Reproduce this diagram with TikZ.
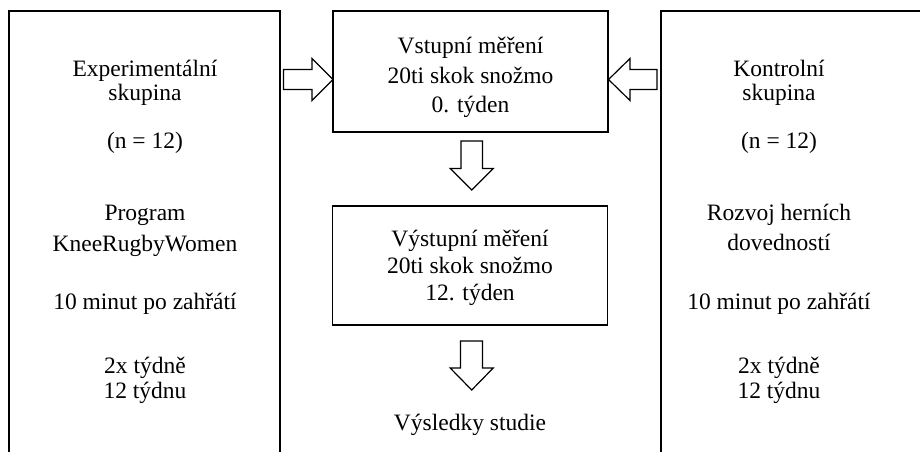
\documentclass[tikz,border=0pt]{standalone}
\usepackage{fontspec}
\setmainfont{Liberation Serif}
\begin{document}
\begin{tikzpicture}[x=1pt,y=-1pt,
  txt/.style={anchor=base,inner sep=0pt,font=\fontsize{23.5}{28}\selectfont},
  frame/.style={draw=black,line width=1.4pt},
  blockarrow/.style={draw=black,line width=1.2pt,line join=miter,fill=white}]
\useasboundingbox (0,0) rectangle (920,452);
% group frames (open at the bottom / right)
\draw[frame] (9,452) -- (9,11) -- (280,11) -- (280,452);
\draw[frame] (920,11) -- (661,11) -- (661,452);
% measurement boxes
\node[frame,minimum width=275pt,minimum height=121pt,inner sep=0pt] (vstup) at (470.5,71.5) {};
\node[frame,minimum width=275pt,minimum height=119pt,inner sep=0pt] (vystup) at (470,265.5) {};
% block arrows
\draw[blockarrow] (283.5,69.5) -- (312,69.5) -- (312,58.5) -- (333,79.5) -- (312,100.5) -- (312,89.5) -- (283.5,89.5) -- cycle;
\draw[blockarrow] (657,69.5) -- (630,69.5) -- (630,58.5) -- (608.5,79.5) -- (630,100.5) -- (630,89.5) -- (657,89.5) -- cycle;
\draw[blockarrow] (461,141) -- (482.5,141) -- (482.5,168.5) -- (493.2,168.5) -- (471.7,190) -- (450.2,168.5) -- (461,168.5) -- cycle;
\draw[blockarrow] (460.5,341) -- (482.5,341) -- (482.5,368) -- (493.2,368) -- (471.7,390) -- (450.2,368) -- (460.5,368) -- cycle;
% left column
\node[txt] (l1) at (145,76) {Experimentální};
\node[txt] (l2) at (145,100.5) {skupina};
\node[txt] (l3) at (145,148) {(n = 12)};
\node[txt] (l4) at (145,220) {Program};
\node[txt] (l5) at (145,251) {KneeRugbyWomen};
\node[txt] (l6) at (145,309) {10 minut po zahřátí};
\node[txt] (l7) at (145,373) {2x týdně};
\node[txt] (l8) at (145,398) {12 týdnu};
% right column
\node[txt] (r1) at (779,76) {Kontrolní};
\node[txt] (r2) at (779,100.5) {skupina};
\node[txt] (r3) at (779,148) {(n = 12)};
\node[txt] (r4) at (779,220) {Rozvoj herních};
\node[txt] (r5) at (779,250) {dovedností};
\node[txt] (r6) at (779,309) {10 minut po zahřátí};
\node[txt] (r7) at (779,373) {2x týdně};
\node[txt] (r8) at (779,398) {12 týdnu};
% middle column
\node[txt] (v1) at (470.5,54) {Vstupní měření};
\node[txt] (v2) at (470.5,83) {20ti skok snožmo};
\node[txt] (v3) at (470.5,112) {0. týden};
\node[txt] (w1) at (470,246) {Výstupní měření};
\node[txt] (w2) at (470,273) {20ti skok snožmo};
\node[txt] (w3) at (470,300) {12. týden};
\node[txt] (res) at (470,430) {Výsledky studie};
\end{tikzpicture}
\end{document}
